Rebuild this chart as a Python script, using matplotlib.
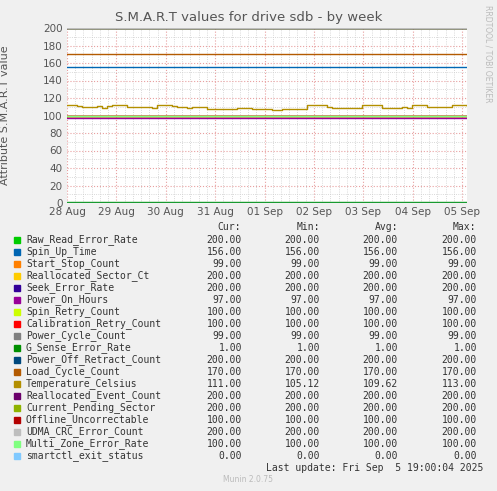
import matplotlib
matplotlib.use("Agg")
import matplotlib.pyplot as plt
import numpy as np

names = ["Raw_Read_Error_Rate","Spin_Up_Time","Start_Stop_Count","Reallocated_Sector_Ct",
         "Seek_Error_Rate","Power_On_Hours","Spin_Retry_Count","Calibration_Retry_Count",
         "Power_Cycle_Count","G_Sense_Error_Rate","Power_Off_Retract_Count","Load_Cycle_Count",
         "Temperature_Celsius","Reallocated_Event_Count","Current_Pending_Sector",
         "Offline_Uncorrectable","UDMA_CRC_Error_Count","Multi_Zone_Error_Rate","smartctl_exit_status"]
colors = ["#00cc00","#0066b3","#ff8000","#ffcc00","#330099","#990099","#ccff00","#ff0000",
          "#808080","#008f00","#00487d","#b35a00","#b38f00","#6b006b","#8fb300","#b30000",
          "#bebebe","#80ff80","#80c9ff"]
cur = [200,156,99,200,200,97,100,100,99,1,200,170,111,200,200,100,200,100,0]
mins = [200,156,99,200,200,97,100,100,99,1,200,170,105.12,200,200,100,200,100,0]
avgs = [200,156,99,200,200,97,100,100,99,1,200,170,109.62,200,200,100,200,100,0]
maxs = [200,156,99,200,200,97,100,100,99,1,200,170,113,200,200,100,200,100,0]
temp = [112,112,111,110,110,110,111,109,111,112,112,112,110,110,110,110,110,109,112,112,
        112,111,110,110,109,110,110,110,108,108,108,108,108,108,109,109,109,108,107,107,
        107,106,106,107,107,108,108,108,112,112,112,112,110,109,109,109,109,109,109,112,
        112,112,112,109,109,109,109,110,109,112,112,112,110,110,110,110,110,112,112,112,111]
day_labels = ["28 Aug","29 Aug","30 Aug","31 Aug","01 Sep","02 Sep","03 Sep","04 Sep","05 Sep"]
xend = 8.1

fig = plt.figure(figsize=(4.97,4.91), dpi=100, facecolor="#f0f0f0")
ax = fig.add_axes([67/497, 288/491, 400/497, 175/491])
ax.set_facecolor("white")
for i,(n,c,v) in enumerate(zip(names,colors,cur)):
    if n == "Temperature_Celsius":
        xs = np.linspace(0, xend, len(temp))
        ax.step(xs, temp, where="post", color=c, lw=1)
    else:
        ax.plot([0,xend],[v,v],color=c,lw=1)
ax.set_xlim(0, xend)
ax.set_ylim(0, 200)
ax.set_yticks(range(0,201,20))
ax.set_yticks(range(0,201,10), minor=True)
ax.set_xticks(range(9))
ax.set_xticklabels(day_labels)
ax.set_xticks(np.arange(0,8.1,1/6), minor=True)
ax.grid(which="major", color="#e8a0a0", ls=":", lw=0.8)
ax.grid(which="minor", color="#cccccc", ls=":", lw=0.6)
ax.tick_params(length=0, labelsize=7.5, colors="#555555", which="both")
ax.tick_params(axis="x", pad=3)
ax.tick_params(axis="y", pad=3)
for s in ax.spines.values():
    s.set_visible(False)
ax.set_ylabel("Attribute S.M.A.R.T value", fontsize=8, color="#555555")
ax.yaxis.set_label_coords(-57/400, 0.5)
fig.text(0.5, 1-18/491, "S.M.A.R.T values for drive sdb - by week", ha="center", va="center",
         fontsize=9.5, color="#555555")
fig.text(488/497, 1-5/491, "RRDTOOL / TOBI OETIKER", rotation=270, ha="center", va="top",
         fontsize=5.5, color="#bbbbbb")

mono = dict(family="DejaVu Sans Mono", fontsize=7, color="#333333", va="center")
fig.text(241/497, 1-227/491, "Cur:", ha="right", **mono)
fig.text(320/497, 1-227/491, "Min:", ha="right", **mono)
fig.text(398/497, 1-227/491, "Avg:", ha="right", **mono)
fig.text(476/497, 1-227/491, "Max:", ha="right", **mono)
for i,(n,c) in enumerate(zip(names,colors)):
    y = 1-(240+12*i)/491
    fig.patches.append(plt.Rectangle((14/497, y-3/491), 6/497, 6/491, color=c, transform=fig.transFigure))
    fig.text(26/497, y, n, ha="left", **mono)
    fig.text(242/497, y, f"{cur[i]:.2f}", ha="right", **mono)
    fig.text(320/497, y, f"{mins[i]:.2f}", ha="right", **mono)
    fig.text(398/497, y, f"{avgs[i]:.2f}", ha="right", **mono)
    fig.text(477/497, y, f"{maxs[i]:.2f}", ha="right", **mono)
fig.text(483/497, 1-468/491, "Last update: Fri Sep  5 19:00:04 2025", ha="right", **mono)
fig.text(248/497, 1-480/491, "Munin 2.0.75", ha="center", va="center", fontsize=5.5, color="#bbbbbb")
fig.savefig("out.png", dpi=100, facecolor=fig.get_facecolor())
